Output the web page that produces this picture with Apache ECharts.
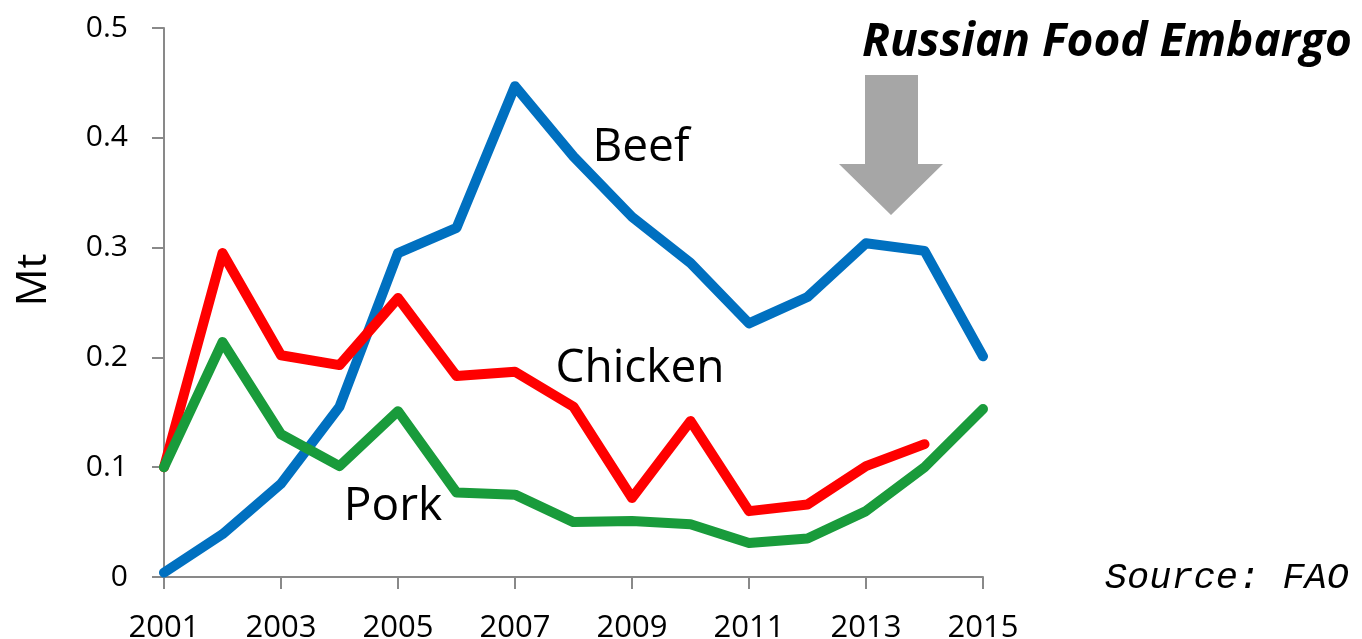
<!DOCTYPE html>
<html>
<head>
<meta charset="utf-8">
<script src="https://cdn.jsdelivr.net/npm/echarts@6/dist/echarts.min.js"></script>
<style>
html,body{margin:0;padding:0;background:#fff;}
#chart{width:1362px;height:639px;}
</style>
</head>
<body>
<div id="chart"></div>
<script>
const years = ['2001','2002','2003','2004','2005','2006','2007','2008','2009','2010','2011','2012','2013','2014','2015'];
const beef =    [0.004, 0.039, 0.085, 0.155, 0.295, 0.318, 0.447, 0.383, 0.328, 0.286, 0.231, 0.255, 0.304, 0.297, 0.201];
const chicken = [0.100, 0.295, 0.202, 0.193, 0.254, 0.183, 0.187, 0.155, 0.072, 0.142, 0.060, 0.066, 0.101, 0.121, null];
const pork =    [0.100, 0.214, 0.130, 0.101, 0.151, 0.077, 0.075, 0.050, 0.051, 0.048, 0.031, 0.035, 0.060, 0.100, 0.153];
const yTicks = { min: 0, max: 0.5, interval: 0.1 };

const chart = echarts.init(document.getElementById('chart'));
const lineStyle = (c) => ({ color: c, width: 10, cap: 'round', join: 'round' });
const sans = '"Open Sans", sans-serif';

chart.setOption({
  animation: false,
  backgroundColor: '#ffffff',
  grid: { left: 164, right: 379, top: 28, bottom: 62, containLabel: false, outerBoundsMode: 'none' },
  xAxis: {
    type: 'category',
    data: years,
    boundaryGap: false,
    axisLine: { lineStyle: { color: '#898989', width: 2 } },
    axisTick: { show: true, interval: 1, length: 12, lineStyle: { color: '#898989', width: 2 } },
    axisLabel: { interval: 1, color: '#000', fontFamily: sans, fontSize: 31, margin: 36 },
    splitLine: { show: false }
  },
  yAxis: {
    type: 'value',
    min: yTicks.min, max: yTicks.max, interval: yTicks.interval,
    axisLine: { show: true, lineStyle: { color: '#898989', width: 2 } },
    axisTick: { show: true, length: 12, lineStyle: { color: '#898989', width: 2 } },
    axisLabel: { color: '#000', fontFamily: sans, fontSize: 30, margin: 36 },
    splitLine: { show: false }
  },
  series: [
    { name: 'Beef', type: 'line', data: beef, showSymbol: false, symbol: 'none', lineStyle: lineStyle('#0070C0'), z: 2 },
    { name: 'Chicken', type: 'line', data: chicken, showSymbol: false, symbol: 'none', lineStyle: lineStyle('#FF0000'), z: 3 },
    { name: 'Pork', type: 'line', data: pork, showSymbol: false, symbol: 'none', lineStyle: lineStyle('#199B3B'), z: 4 }
  ],
  graphic: [
    { type: 'polygon', shape: { points: [[865,75],[918,75],[918,164],[943,164],[891,215],[839,164],[865,164]] }, style: { fill: '#A6A6A6' }, z: 1 },
    { type: 'text', x: 34, y: 280, rotation: Math.PI / 2, style: { text: 'Mt', x: 0, y: 0, align: 'center', verticalAlign: 'middle', font: '42px "Open Sans", sans-serif', fill: '#000' }, z: 10 },
    { type: 'text', style: { text: 'Beef', x: 641, y: 148, align: 'center', verticalAlign: 'middle', font: '46px "Open Sans", sans-serif', fill: '#000' }, z: 10 },
    { type: 'text', style: { text: 'Chicken', x: 640, y: 369, align: 'center', verticalAlign: 'middle', font: '46px "Open Sans", sans-serif', fill: '#000' }, z: 10 },
    { type: 'text', style: { text: 'Pork', x: 393, y: 507, align: 'center', verticalAlign: 'middle', font: '46px "Open Sans", sans-serif', fill: '#000' }, z: 10 },
    { type: 'text', style: { text: 'Russian Food Embargo', x: 1107, y: 43, align: 'center', verticalAlign: 'middle', font: 'italic bold 46px "Open Sans", sans-serif', fill: '#000' }, z: 10 },
    { type: 'text', style: { text: 'Source: FAO', x: 1349, y: 578, align: 'right', verticalAlign: 'middle', font: 'italic 37px "Liberation Mono", monospace', fill: '#000' }, z: 10 }
  ]
});
</script>
</body>
</html>
